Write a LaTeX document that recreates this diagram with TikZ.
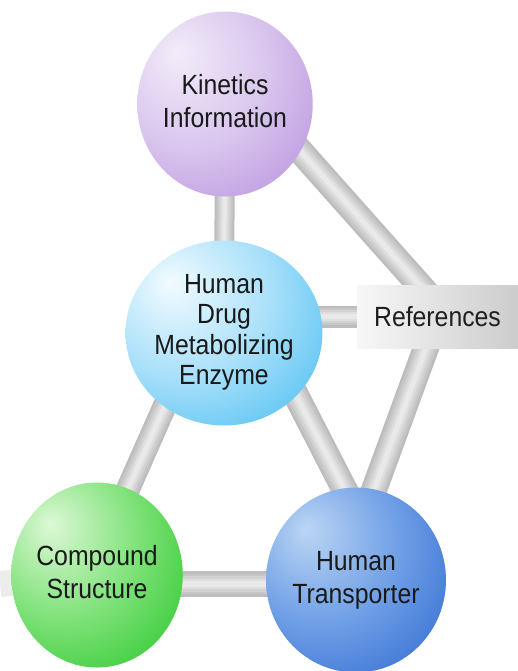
\documentclass[tikz,border=0pt]{standalone}
\usepackage{fontspec}
\setmainfont{Liberation Sans}
\usepackage{graphicx}
\usetikzlibrary{shapes.geometric,backgrounds,calc}

% colours of the balls
\definecolor{kinhi}{HTML}{F3ECF9}
\definecolor{kinmid}{HTML}{D9C6EE}
\definecolor{kinedge}{HTML}{B58BDB}
\definecolor{enzhi}{HTML}{F2FBFF}
\definecolor{enzmid}{HTML}{A9E0FA}
\definecolor{enzedge}{HTML}{3FBAF0}
\definecolor{comphi}{HTML}{DDF8D6}
\definecolor{compmid}{HTML}{7FE27A}
\definecolor{compedge}{HTML}{22C422}
\definecolor{transhi}{HTML}{BCD6F4}
\definecolor{transmid}{HTML}{6F9FE6}
\definecolor{transedge}{HTML}{2C66CF}

\pgfdeclareradialshading{kinball}{\pgfpoint{-14bp}{14bp}}{color(0bp)=(kinhi); color(22bp)=(kinmid); color(46bp)=(kinedge); color(80bp)=(kinedge)}
\pgfdeclareradialshading{enzball}{\pgfpoint{-14bp}{14bp}}{color(0bp)=(enzhi); color(22bp)=(enzmid); color(46bp)=(enzedge); color(80bp)=(enzedge)}
\pgfdeclareradialshading{compball}{\pgfpoint{-14bp}{14bp}}{color(0bp)=(comphi); color(22bp)=(compmid); color(46bp)=(compedge); color(80bp)=(compedge)}
\pgfdeclareradialshading{transball}{\pgfpoint{-14bp}{14bp}}{color(0bp)=(transhi); color(22bp)=(transmid); color(46bp)=(transedge); color(80bp)=(transedge)}

\newcommand{\balltext}[1]{\scalebox{1}[1.12]{\begin{tabular}{@{}c@{}}#1\end{tabular}}}

\tikzset{
  ball/.style={ellipse, minimum width=168pt, minimum height=185pt, inner sep=0pt,
    font=\fontsize{24.8}{29.5}\selectfont, text=black!90},
  refbox/.style={rectangle, minimum width=161pt, minimum height=63pt, inner sep=0pt,
    left color=gray!6, right color=gray!40, font=\fontsize{24.8}{29}\selectfont, text=black!88},
  bar/.style={line width=#1, draw=gray!52,
    postaction={draw=gray!44, line width=0.8*#1},
    postaction={draw=gray!35, line width=0.6*#1},
    postaction={draw=gray!26, line width=0.4*#1},
    postaction={draw=gray!17, line width=0.2*#1}},
  bar/.default=24pt,
  faintbar/.style={line width=26pt, draw=gray!14}
}

\begin{document}
\begin{tikzpicture}[x=1pt,y=-1pt]
\useasboundingbox (0,0) rectangle (518,671);
% the balls
\node[ball, shading=kinball] (kin) at (225,104) {\balltext{Kinetics\\Information}};
\node[ball, shading=enzball, font=\fontsize{24.8}{27}\selectfont] (enz) at (224,333) {\balltext{Human\\Drug\\Metabolizing\\Enzyme}};
\node[ball, shading=compball] (comp) at (97,575) {\balltext{Compound\\Structure}};
\node[ball, shading=transball] (trans) at (356,580) {\balltext{Human\\Transporter}};
% the references box
\node[refbox] (ref) at (437.5,316.5) {\scalebox{1}[1.12]{References}};
\coordinate (stub) at (0,584);
% the bars behind
\begin{scope}[on background layer]
\draw[bar=20pt] (kin.center) -- (enz.center);
\draw[bar=26pt] ($(kin.center)+(29,-5)$) -- ($(ref.center)+(10,0)$);
\draw[bar=22pt] (ref.center -| enz.center) -- (ref.center);
\draw[bar=26pt] (ref.center) -- ($(trans.center)+(-15,0)$);
\draw[bar=26pt] ($(enz.center)+(40,0)$) -- ($(trans.center)+(35,0)$);
\draw[bar=24pt] ($(enz.center)+(-27,0)$) -- ($(comp.center)+(-7,0)$);
\draw[bar=26pt] ($(comp.center)+(0,9)$) -- ($(trans.center)+(0,4)$);
\draw[faintbar] (comp.center) -- (stub);
\end{scope}
\end{tikzpicture}
\end{document}
